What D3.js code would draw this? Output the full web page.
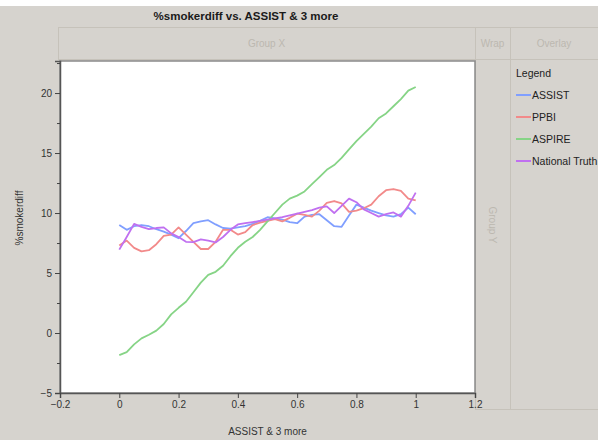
<!DOCTYPE html>
<html><head><meta charset="utf-8">
<script src="https://cdn.jsdelivr.net/npm/d3@7"></script>
<style>html,body{margin:0;padding:0;background:#d6d3ce;}svg{display:block;font-family:"Liberation Sans",Arial,sans-serif;}</style>
</head><body><svg id="c" width="598" height="440"></svg>
<script>
const xs = [0,0.025,0.05,0.075,0.1,0.125,0.15,0.175,0.2,0.225,0.25,0.275,0.3,0.325,0.35,0.375,0.4,0.425,0.45,0.475,0.5,0.525,0.55,0.575,0.6,0.625,0.65,0.675,0.7,0.725,0.75,0.775,0.8,0.825,0.85,0.875,0.9,0.925,0.95,0.975,1];
const assist = [9.0,8.6,8.9,9.0,8.9,8.65,8.45,8.2,7.9,8.5,9.15,9.3,9.4,9.05,8.75,8.7,8.8,8.9,9.1,9.35,9.65,9.55,9.45,9.25,9.15,9.7,9.85,9.9,9.4,8.9,8.85,9.8,10.7,10.45,10.2,10.0,9.8,9.7,9.9,10.45,9.9];
const ppbi = [7.3,7.7,7.1,6.8,6.9,7.4,8.1,8.2,8.8,8.2,7.6,7.0,7.0,7.6,8.6,8.6,8.2,8.4,9.0,9.2,9.35,9.5,9.3,9.6,9.95,9.85,9.7,10.2,10.85,11.0,10.8,10.1,10.2,10.4,10.7,11.4,11.9,12.0,11.85,11.2,11.05];
const aspire = [-1.85,-1.6,-0.95,-0.45,-0.15,0.2,0.75,1.55,2.1,2.6,3.4,4.2,4.85,5.1,5.6,6.4,7.1,7.6,8.0,8.6,9.3,10.0,10.7,11.2,11.45,11.8,12.4,13.0,13.6,14.0,14.6,15.3,16.0,16.6,17.2,17.9,18.3,18.9,19.5,20.2,20.5];
const natTruth = [6.95,8.0,9.1,8.85,8.65,8.75,8.8,8.3,8.0,7.6,7.58,7.8,7.7,7.55,8.0,8.6,9.05,9.15,9.25,9.35,9.45,9.55,9.65,9.8,9.95,10.1,10.25,10.45,10.55,10.0,10.6,11.2,10.9,10.3,10.0,9.7,9.9,10.05,9.7,10.6,11.7];
const seriesNames = ["ASSIST","PPBI","ASPIRE","National Truth"];
const seriesColors = ["#809fff","#f28a8a","#86d486","#c070f0"];
const xTicks = [-0.2,0,0.2,0.4,0.6,0.8,1,1.2];
const yTicks = [-5,0,5,10,15,20];
const yMinor = [-2.5,2.5,7.5,12.5,17.5,22.5];
const title = "%smokerdiff vs. ASSIST & 3 more";
const xLabel = "ASSIST & 3 more";
const yLabel = "%smokerdiff";

const svg = d3.select("#c");
svg.append("rect").attr("x",0).attr("y",0).attr("width",598).attr("height",440).attr("fill","#d6d3ce");
svg.append("rect").attr("x",0).attr("y",0).attr("width",598).attr("height",6).attr("fill","#ffffff");

const L=60, R=475, T=61, B=393;
const x = d3.scaleLinear().domain([-0.2,1.2]).range([L,R]);
const y = d3.scaleLinear().domain([-5,22.67]).range([B,T]);

// header boxes
const boxStroke = "#c6c2ba";
const boxes = [
  {x:58,y:27,w:417,h:32,t:"Group X"},
  {x:475,y:27,w:35,h:32,t:"Wrap"},
  {x:510,y:27,w:88,h:32,t:"Overlay"}
];
boxes.forEach(b=>{
  svg.append("rect").attr("x",b.x+0.5).attr("y",b.y+0.5).attr("width",b.w).attr("height",b.h)
    .attr("fill","none").attr("stroke",boxStroke);
  svg.append("text").attr("x",b.x+b.w/2).attr("y",b.y+b.h/2+4).attr("text-anchor","middle")
    .attr("font-size",10).attr("fill","#bcb8b0").text(b.t);
});
svg.append("rect").attr("x",475.5).attr("y",59.5).attr("width",35).attr("height",350).attr("fill","none").attr("stroke",boxStroke);
svg.append("rect").attr("x",510.5).attr("y",59.5).attr("width",88).attr("height",350).attr("fill","none").attr("stroke",boxStroke);
svg.append("text").attr("transform","translate(489,225) rotate(90)").attr("text-anchor","middle")
  .attr("font-size",10).attr("fill","#bcb8b0").text("Group Y");

// plot area
svg.append("rect").attr("x",L).attr("y",T).attr("width",R-L).attr("height",B-T)
  .attr("fill","#ffffff").attr("stroke","#8a8a8a").attr("stroke-width",1.5);

// title
svg.append("text").attr("x",246).attr("y",20).attr("text-anchor","middle")
  .attr("font-size",11.5).attr("font-weight","bold").attr("fill","#1a1a1a").text(title);

// axes
const yAxis = d3.axisLeft(y).tickValues(yTicks).tickSize(5).tickFormat(d3.format("d"));
const gy = svg.append("g").attr("transform",`translate(${L},0)`).call(yAxis);
gy.selectAll(".tick line").attr("stroke","#444");
gy.select(".domain").attr("stroke","#555").attr("stroke-width",1.5);
gy.selectAll("text").attr("font-size",10).attr("fill","#333").attr("font-family","Liberation Sans, Arial, sans-serif");
const gym = svg.append("g").attr("transform",`translate(${L},0)`).call(d3.axisLeft(y).tickValues(yMinor.filter(v=>v<22.6)).tickSize(3).tickFormat(""));
gym.select(".domain").remove();
gym.selectAll(".tick line").attr("stroke","#444");

const xAxis = d3.axisBottom(x).tickValues(xTicks).tickSize(5).tickFormat(d=>d3.format("")(d));
const gx = svg.append("g").attr("transform",`translate(0,${B})`).call(xAxis);
gx.selectAll(".tick line").attr("stroke","#444");
gx.select(".domain").attr("stroke","#555").attr("stroke-width",1.5);
gx.selectAll("text").attr("font-size",10).attr("fill","#333").attr("font-family","Liberation Sans, Arial, sans-serif");

svg.append("text").attr("x",(L+R)/2).attr("y",435).attr("text-anchor","middle")
  .attr("font-size",10).attr("fill","#333").text(xLabel);
svg.append("text").attr("transform","translate(23,218) rotate(-90)").attr("text-anchor","middle")
  .attr("font-size",10).attr("fill","#333").text(yLabel);

// lines
const allSeries = [assist, ppbi, aspire, natTruth];
const line = d3.line().x((d,i)=>x(xs[i])).y(d=>y(d));
allSeries.forEach((s,k)=>{
  svg.append("path").datum(s).attr("d",line).attr("fill","none")
    .attr("stroke",seriesColors[k]).attr("stroke-width",1.8).attr("stroke-linejoin","round");
});

// legend
svg.append("text").attr("x",516).attr("y",77).attr("font-size",10.5).attr("fill","#222").text("Legend");
seriesNames.forEach((n,k)=>{
  const yy = 95 + k*22;
  svg.append("line").attr("x1",516).attr("x2",531).attr("y1",yy).attr("y2",yy)
    .attr("stroke",seriesColors[k]).attr("stroke-width",2);
  svg.append("text").attr("x",532).attr("y",yy+4).attr("font-size",10.5).attr("fill","#222").text(n);
});
</script></body></html>
